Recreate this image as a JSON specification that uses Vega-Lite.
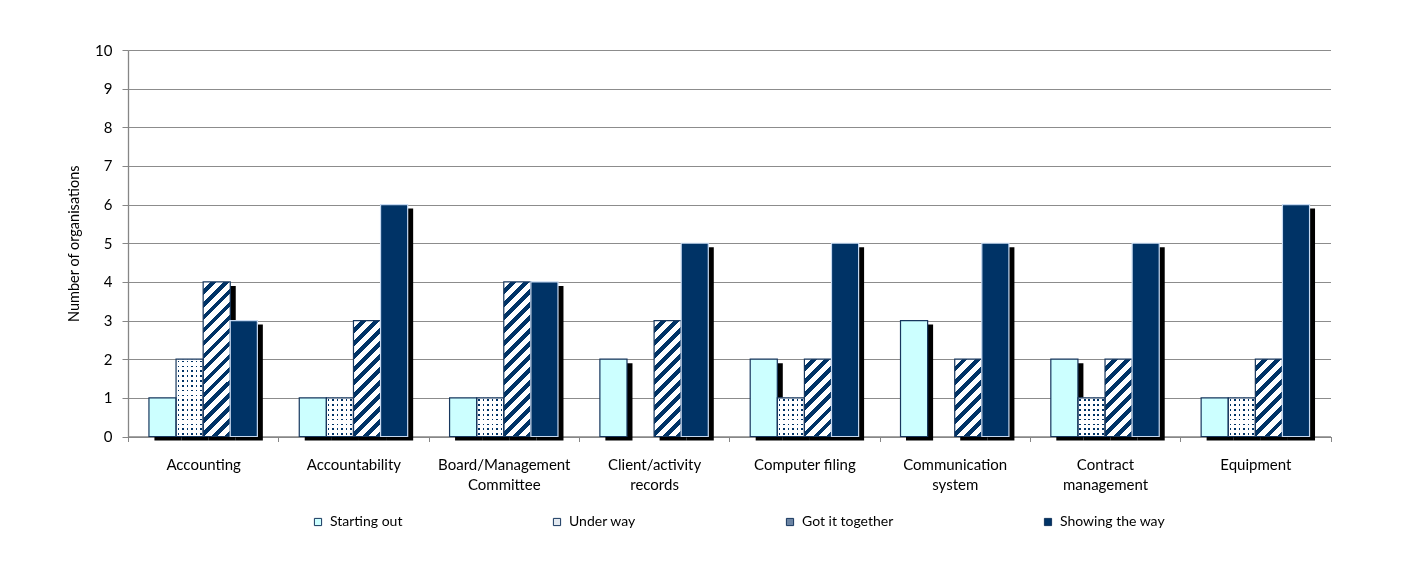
{
  "$schema": "https://vega.github.io/schema/vega-lite/v6.json",
  "width": 1202.5,
  "height": 386.5,
  "autosize": "none",
  "padding": {"left": 128, "top": 50, "right": 90.5, "bottom": 127.5},
  "background": "white",
  "config": {
    "view": {"stroke": null},
    "font": "Lato",
    "axis": {"labelFont": "Lato", "titleFont": "Lato", "labelColor": "#000000", "titleColor": "#000000"}
  },
  "resolve": {"scale": {"xOffset": "independent"}},
  "data": {
    "values": [
      {"category": "Accounting", "series": "Starting out", "value": 1},
      {"category": "Accounting", "series": "Under way", "value": 2},
      {"category": "Accounting", "series": "Got it together", "value": 4},
      {"category": "Accounting", "series": "Showing the way", "value": 3},
      {"category": "Accountability", "series": "Starting out", "value": 1},
      {"category": "Accountability", "series": "Under way", "value": 1},
      {"category": "Accountability", "series": "Got it together", "value": 3},
      {"category": "Accountability", "series": "Showing the way", "value": 6},
      {"category": "Board/Management|Committee", "series": "Starting out", "value": 1},
      {"category": "Board/Management|Committee", "series": "Under way", "value": 1},
      {"category": "Board/Management|Committee", "series": "Got it together", "value": 4},
      {"category": "Board/Management|Committee", "series": "Showing the way", "value": 4},
      {"category": "Client/activity|records", "series": "Starting out", "value": 2},
      {"category": "Client/activity|records", "series": "Under way", "value": 0},
      {"category": "Client/activity|records", "series": "Got it together", "value": 3},
      {"category": "Client/activity|records", "series": "Showing the way", "value": 5},
      {"category": "Computer filing", "series": "Starting out", "value": 2},
      {"category": "Computer filing", "series": "Under way", "value": 1},
      {"category": "Computer filing", "series": "Got it together", "value": 2},
      {"category": "Computer filing", "series": "Showing the way", "value": 5},
      {"category": "Communication|system", "series": "Starting out", "value": 3},
      {"category": "Communication|system", "series": "Under way", "value": 0},
      {"category": "Communication|system", "series": "Got it together", "value": 2},
      {"category": "Communication|system", "series": "Showing the way", "value": 5},
      {"category": "Contract|management", "series": "Starting out", "value": 2},
      {"category": "Contract|management", "series": "Under way", "value": 1},
      {"category": "Contract|management", "series": "Got it together", "value": 2},
      {"category": "Contract|management", "series": "Showing the way", "value": 5},
      {"category": "Equipment", "series": "Starting out", "value": 1},
      {"category": "Equipment", "series": "Under way", "value": 1},
      {"category": "Equipment", "series": "Got it together", "value": 2},
      {"category": "Equipment", "series": "Showing the way", "value": 6}
    ]
  },
  "encoding": {
    "x": {
      "field": "category", "type": "nominal", "sort": null,
      "scale": {"paddingInner": 0, "paddingOuter": 0},
      "axis": {
        "title": null, "labelAngle": 0, "labelFontSize": 15, "labelPadding": 16,
        "labelLineHeight": 20, "labelExpr": "split(datum.label, '|')",
        "tickBand": "extent", "tickSize": 5, "tickColor": "#868686",
        "domainColor": "#868686", "domainWidth": 1.3, "grid": false
      }
    },
    "xOffset": {
      "field": "series", "type": "nominal",
      "scale": {"domain": ["Starting out", "Under way", "Got it together", "Showing the way"], "paddingInner": 0, "paddingOuter": 0.773}
    },
    "y": {
      "field": "value", "type": "quantitative",
      "scale": {"domain": [0, 10], "nice": false},
      "axis": {
        "title": "Number of organisations", "titleFontSize": 14.5, "titleFontWeight": "normal",
        "titlePadding": 13, "values": [0, 1, 2, 3, 4, 5, 6, 7, 8, 9, 10],
        "labelFontSize": 15, "labelPadding": 10, "tickSize": 6, "tickColor": "#868686",
        "domainColor": "#868686", "domainWidth": 1.3, "grid": true, "gridColor": "#8c8c8c", "gridWidth": 1
      }
    }
  },
  "layer": [
    {
      "transform": [{"filter": "datum.value > 0"}],
      "mark": {"type": "bar", "fill": "#000000", "yOffset": 4, "y2Offset": 1.5},
      "encoding": {
        "xOffset": {
          "field": "series", "type": "nominal",
          "scale": {"domain": ["Starting out", "Under way", "Got it together", "Showing the way"], "paddingInner": 0, "paddingOuter": 0.773, "align": 0.631}
        }
      }
    },
    {
      "transform": [{"filter": "datum.value > 0"}],
      "mark": {"type": "bar", "strokeWidth": 0},
      "encoding": {
        "fill": {
          "condition": [
            {"test": "datum.series === 'Got it together' && datum.value === 2", "value": {"gradient": "linear", "x1": 0, "y1": 0, "x2": 0.4217, "y2": 1.2027, "stops": [
              {"offset": 0, "color": "#ffffff"}, {"offset": 0.0688, "color": "#ffffff"}, {"offset": 0.0688, "color": "#003366"}, {"offset": 0.125, "color": "#003366"},
              {"offset": 0.125, "color": "#ffffff"}, {"offset": 0.1938, "color": "#ffffff"}, {"offset": 0.1938, "color": "#003366"}, {"offset": 0.25, "color": "#003366"},
              {"offset": 0.25, "color": "#ffffff"}, {"offset": 0.3188, "color": "#ffffff"}, {"offset": 0.3188, "color": "#003366"}, {"offset": 0.375, "color": "#003366"},
              {"offset": 0.375, "color": "#ffffff"}, {"offset": 0.4438, "color": "#ffffff"}, {"offset": 0.4438, "color": "#003366"}, {"offset": 0.5, "color": "#003366"},
              {"offset": 0.5, "color": "#ffffff"}, {"offset": 0.5688, "color": "#ffffff"}, {"offset": 0.5688, "color": "#003366"}, {"offset": 0.625, "color": "#003366"},
              {"offset": 0.625, "color": "#ffffff"}, {"offset": 0.6938, "color": "#ffffff"}, {"offset": 0.6938, "color": "#003366"}, {"offset": 0.75, "color": "#003366"},
              {"offset": 0.75, "color": "#ffffff"}, {"offset": 0.8188, "color": "#ffffff"}, {"offset": 0.8188, "color": "#003366"}, {"offset": 0.875, "color": "#003366"},
              {"offset": 0.875, "color": "#ffffff"}, {"offset": 0.9438, "color": "#ffffff"}, {"offset": 0.9438, "color": "#003366"}, {"offset": 1, "color": "#003366"}
            ]}},
            {"test": "datum.series === 'Got it together' && datum.value === 3", "value": {"gradient": "linear", "x1": 0, "y1": 0, "x2": 0.2734, "y2": 1.1698, "stops": [
              {"offset": 0, "color": "#ffffff"}, {"offset": 0.05, "color": "#ffffff"}, {"offset": 0.05, "color": "#003366"}, {"offset": 0.0909, "color": "#003366"},
              {"offset": 0.0909, "color": "#ffffff"}, {"offset": 0.1409, "color": "#ffffff"}, {"offset": 0.1409, "color": "#003366"}, {"offset": 0.1818, "color": "#003366"},
              {"offset": 0.1818, "color": "#ffffff"}, {"offset": 0.2318, "color": "#ffffff"}, {"offset": 0.2318, "color": "#003366"}, {"offset": 0.2727, "color": "#003366"},
              {"offset": 0.2727, "color": "#ffffff"}, {"offset": 0.3227, "color": "#ffffff"}, {"offset": 0.3227, "color": "#003366"}, {"offset": 0.3636, "color": "#003366"},
              {"offset": 0.3636, "color": "#ffffff"}, {"offset": 0.4136, "color": "#ffffff"}, {"offset": 0.4136, "color": "#003366"}, {"offset": 0.4545, "color": "#003366"},
              {"offset": 0.4545, "color": "#ffffff"}, {"offset": 0.5045, "color": "#ffffff"}, {"offset": 0.5045, "color": "#003366"}, {"offset": 0.5455, "color": "#003366"},
              {"offset": 0.5455, "color": "#ffffff"}, {"offset": 0.5955, "color": "#ffffff"}, {"offset": 0.5955, "color": "#003366"}, {"offset": 0.6364, "color": "#003366"},
              {"offset": 0.6364, "color": "#ffffff"}, {"offset": 0.6864, "color": "#ffffff"}, {"offset": 0.6864, "color": "#003366"}, {"offset": 0.7273, "color": "#003366"},
              {"offset": 0.7273, "color": "#ffffff"}, {"offset": 0.7773, "color": "#ffffff"}, {"offset": 0.7773, "color": "#003366"}, {"offset": 0.8182, "color": "#003366"},
              {"offset": 0.8182, "color": "#ffffff"}, {"offset": 0.8682, "color": "#ffffff"}, {"offset": 0.8682, "color": "#003366"}, {"offset": 0.9091, "color": "#003366"},
              {"offset": 0.9091, "color": "#ffffff"}, {"offset": 0.9591, "color": "#ffffff"}, {"offset": 0.9591, "color": "#003366"}, {"offset": 1, "color": "#003366"}
            ]}},
            {"test": "datum.series === 'Got it together' && datum.value === 4", "value": {"gradient": "linear", "x1": 0, "y1": 0, "x2": 0.1999, "y2": 1.1403, "stops": [
              {"offset": 0, "color": "#ffffff"}, {"offset": 0.0393, "color": "#ffffff"}, {"offset": 0.0393, "color": "#003366"}, {"offset": 0.0714, "color": "#003366"},
              {"offset": 0.0714, "color": "#ffffff"}, {"offset": 0.1107, "color": "#ffffff"}, {"offset": 0.1107, "color": "#003366"}, {"offset": 0.1429, "color": "#003366"},
              {"offset": 0.1429, "color": "#ffffff"}, {"offset": 0.1821, "color": "#ffffff"}, {"offset": 0.1821, "color": "#003366"}, {"offset": 0.2143, "color": "#003366"},
              {"offset": 0.2143, "color": "#ffffff"}, {"offset": 0.2536, "color": "#ffffff"}, {"offset": 0.2536, "color": "#003366"}, {"offset": 0.2857, "color": "#003366"},
              {"offset": 0.2857, "color": "#ffffff"}, {"offset": 0.325, "color": "#ffffff"}, {"offset": 0.325, "color": "#003366"}, {"offset": 0.3571, "color": "#003366"},
              {"offset": 0.3571, "color": "#ffffff"}, {"offset": 0.3964, "color": "#ffffff"}, {"offset": 0.3964, "color": "#003366"}, {"offset": 0.4286, "color": "#003366"},
              {"offset": 0.4286, "color": "#ffffff"}, {"offset": 0.4679, "color": "#ffffff"}, {"offset": 0.4679, "color": "#003366"}, {"offset": 0.5, "color": "#003366"},
              {"offset": 0.5, "color": "#ffffff"}, {"offset": 0.5393, "color": "#ffffff"}, {"offset": 0.5393, "color": "#003366"}, {"offset": 0.5714, "color": "#003366"},
              {"offset": 0.5714, "color": "#ffffff"}, {"offset": 0.6107, "color": "#ffffff"}, {"offset": 0.6107, "color": "#003366"}, {"offset": 0.6429, "color": "#003366"},
              {"offset": 0.6429, "color": "#ffffff"}, {"offset": 0.6821, "color": "#ffffff"}, {"offset": 0.6821, "color": "#003366"}, {"offset": 0.7143, "color": "#003366"},
              {"offset": 0.7143, "color": "#ffffff"}, {"offset": 0.7536, "color": "#ffffff"}, {"offset": 0.7536, "color": "#003366"}, {"offset": 0.7857, "color": "#003366"},
              {"offset": 0.7857, "color": "#ffffff"}, {"offset": 0.825, "color": "#ffffff"}, {"offset": 0.825, "color": "#003366"}, {"offset": 0.8571, "color": "#003366"},
              {"offset": 0.8571, "color": "#ffffff"}, {"offset": 0.8964, "color": "#ffffff"}, {"offset": 0.8964, "color": "#003366"}, {"offset": 0.9286, "color": "#003366"},
              {"offset": 0.9286, "color": "#ffffff"}, {"offset": 0.9679, "color": "#ffffff"}, {"offset": 0.9679, "color": "#003366"}, {"offset": 1, "color": "#003366"}
            ]}},
            {"test": "datum.series === 'Under way'", "value": {"gradient": "linear", "x1": 0, "y1": 0, "x2": 1, "y2": 0, "stops": [
              {"offset": 0, "color": "#ffffff"}, {"offset": 0.0538, "color": "#ffffff"}, {"offset": 0.0538, "color": "#003366"}, {"offset": 0.1128, "color": "#003366"},
              {"offset": 0.1128, "color": "#ffffff"}, {"offset": 0.2205, "color": "#ffffff"}, {"offset": 0.2205, "color": "#003366"}, {"offset": 0.2795, "color": "#003366"},
              {"offset": 0.2795, "color": "#ffffff"}, {"offset": 0.3872, "color": "#ffffff"}, {"offset": 0.3872, "color": "#003366"}, {"offset": 0.4462, "color": "#003366"},
              {"offset": 0.4462, "color": "#ffffff"}, {"offset": 0.5538, "color": "#ffffff"}, {"offset": 0.5538, "color": "#003366"}, {"offset": 0.6128, "color": "#003366"},
              {"offset": 0.6128, "color": "#ffffff"}, {"offset": 0.7205, "color": "#ffffff"}, {"offset": 0.7205, "color": "#003366"}, {"offset": 0.7795, "color": "#003366"},
              {"offset": 0.7795, "color": "#ffffff"}, {"offset": 0.8872, "color": "#ffffff"}, {"offset": 0.8872, "color": "#003366"}, {"offset": 0.9462, "color": "#003366"},
              {"offset": 0.9462, "color": "#ffffff"}, {"offset": 1, "color": "#ffffff"}
            ]}}
          ],
          "field": "series", "type": "nominal",
          "scale": {
            "domain": ["Starting out", "Under way", "Got it together", "Showing the way"],
            "range": ["#CCFFFF", "#e3e9f0", "#6b84a3", "#003366"]
          },
          "legend": {
            "orient": "none", "legendX": 183, "legendY": 465, "direction": "horizontal",
            "columns": 4, "columnPadding": 147, "title": null,
            "symbolType": "square", "symbolSize": 52, "symbolStrokeColor": "#17375E", "symbolStrokeWidth": 1,
            "labelFont": "Lato", "labelFontSize": 14, "labelColor": "#000000", "labelOffset": 5,
            "encode": {
              "symbols": {
                "update": {
                  "stroke": {"value": "#17375E"},
                  "strokeWidth": {"value": 1}
                }
              }
            }
          }
        }
      }
    },
    {
      "transform": [{"filter": "datum.series === 'Under way' && datum.value > 0"}],
      "mark": {"type": "bar", "strokeWidth": 0, "blend": "lighten"},
      "encoding": {
        "fill": {
          "condition": {"test": "datum.value === 1", "value": {"gradient": "linear", "x1": 0, "y1": 0, "x2": 0, "y2": 1, "stops": [
            {"offset": 0, "color": "#ffffff"}, {"offset": 0.0418, "color": "#ffffff"}, {"offset": 0.0418, "color": "#000000"}, {"offset": 0.0832, "color": "#000000"},
            {"offset": 0.0832, "color": "#ffffff"}, {"offset": 0.1668, "color": "#ffffff"}, {"offset": 0.1668, "color": "#000000"}, {"offset": 0.2082, "color": "#000000"},
            {"offset": 0.2082, "color": "#ffffff"}, {"offset": 0.2918, "color": "#ffffff"}, {"offset": 0.2918, "color": "#000000"}, {"offset": 0.3332, "color": "#000000"},
            {"offset": 0.3332, "color": "#ffffff"}, {"offset": 0.4168, "color": "#ffffff"}, {"offset": 0.4168, "color": "#000000"}, {"offset": 0.4582, "color": "#000000"},
            {"offset": 0.4582, "color": "#ffffff"}, {"offset": 0.5418, "color": "#ffffff"}, {"offset": 0.5418, "color": "#000000"}, {"offset": 0.5832, "color": "#000000"},
            {"offset": 0.5832, "color": "#ffffff"}, {"offset": 0.6668, "color": "#ffffff"}, {"offset": 0.6668, "color": "#000000"}, {"offset": 0.7082, "color": "#000000"},
            {"offset": 0.7082, "color": "#ffffff"}, {"offset": 0.7918, "color": "#ffffff"}, {"offset": 0.7918, "color": "#000000"}, {"offset": 0.8332, "color": "#000000"},
            {"offset": 0.8332, "color": "#ffffff"}, {"offset": 0.9168, "color": "#ffffff"}, {"offset": 0.9168, "color": "#000000"}, {"offset": 0.9582, "color": "#000000"},
            {"offset": 0.9582, "color": "#ffffff"}, {"offset": 1, "color": "#ffffff"}
          ]}},
          "value": {"gradient": "linear", "x1": 0, "y1": 0, "x2": 0, "y2": 1, "stops": [
            {"offset": 0, "color": "#ffffff"}, {"offset": 0.0209, "color": "#ffffff"}, {"offset": 0.0209, "color": "#000000"}, {"offset": 0.0417, "color": "#000000"},
            {"offset": 0.0417, "color": "#ffffff"}, {"offset": 0.0834, "color": "#ffffff"}, {"offset": 0.0834, "color": "#000000"}, {"offset": 0.1042, "color": "#000000"},
            {"offset": 0.1042, "color": "#ffffff"}, {"offset": 0.1459, "color": "#ffffff"}, {"offset": 0.1459, "color": "#000000"}, {"offset": 0.1667, "color": "#000000"},
            {"offset": 0.1667, "color": "#ffffff"}, {"offset": 0.2084, "color": "#ffffff"}, {"offset": 0.2084, "color": "#000000"}, {"offset": 0.2292, "color": "#000000"},
            {"offset": 0.2292, "color": "#ffffff"}, {"offset": 0.2709, "color": "#ffffff"}, {"offset": 0.2709, "color": "#000000"}, {"offset": 0.2917, "color": "#000000"},
            {"offset": 0.2917, "color": "#ffffff"}, {"offset": 0.3334, "color": "#ffffff"}, {"offset": 0.3334, "color": "#000000"}, {"offset": 0.3542, "color": "#000000"},
            {"offset": 0.3542, "color": "#ffffff"}, {"offset": 0.3959, "color": "#ffffff"}, {"offset": 0.3959, "color": "#000000"}, {"offset": 0.4167, "color": "#000000"},
            {"offset": 0.4167, "color": "#ffffff"}, {"offset": 0.4584, "color": "#ffffff"}, {"offset": 0.4584, "color": "#000000"}, {"offset": 0.4792, "color": "#000000"},
            {"offset": 0.4792, "color": "#ffffff"}, {"offset": 0.5209, "color": "#ffffff"}, {"offset": 0.5209, "color": "#000000"}, {"offset": 0.5417, "color": "#000000"},
            {"offset": 0.5417, "color": "#ffffff"}, {"offset": 0.5834, "color": "#ffffff"}, {"offset": 0.5834, "color": "#000000"}, {"offset": 0.6042, "color": "#000000"},
            {"offset": 0.6042, "color": "#ffffff"}, {"offset": 0.6459, "color": "#ffffff"}, {"offset": 0.6459, "color": "#000000"}, {"offset": 0.6667, "color": "#000000"},
            {"offset": 0.6667, "color": "#ffffff"}, {"offset": 0.7084, "color": "#ffffff"}, {"offset": 0.7084, "color": "#000000"}, {"offset": 0.7292, "color": "#000000"},
            {"offset": 0.7292, "color": "#ffffff"}, {"offset": 0.7709, "color": "#ffffff"}, {"offset": 0.7709, "color": "#000000"}, {"offset": 0.7917, "color": "#000000"},
            {"offset": 0.7917, "color": "#ffffff"}, {"offset": 0.8334, "color": "#ffffff"}, {"offset": 0.8334, "color": "#000000"}, {"offset": 0.8542, "color": "#000000"},
            {"offset": 0.8542, "color": "#ffffff"}, {"offset": 0.8959, "color": "#ffffff"}, {"offset": 0.8959, "color": "#000000"}, {"offset": 0.9167, "color": "#000000"},
            {"offset": 0.9167, "color": "#ffffff"}, {"offset": 0.9584, "color": "#ffffff"}, {"offset": 0.9584, "color": "#000000"}, {"offset": 0.9792, "color": "#000000"},
            {"offset": 0.9792, "color": "#ffffff"}, {"offset": 1, "color": "#ffffff"}
          ]}
        }
      }
    },
    {
      "transform": [{"filter": "datum.value > 0"}],
      "mark": {"type": "bar", "fillOpacity": 0, "strokeWidth": 1.2},
      "encoding": {
        "stroke": {
          "condition": {"test": "datum.series === 'Showing the way'", "value": "#c6d9f1"},
          "value": "#17375E"
        }
      }
    }
  ]
}
